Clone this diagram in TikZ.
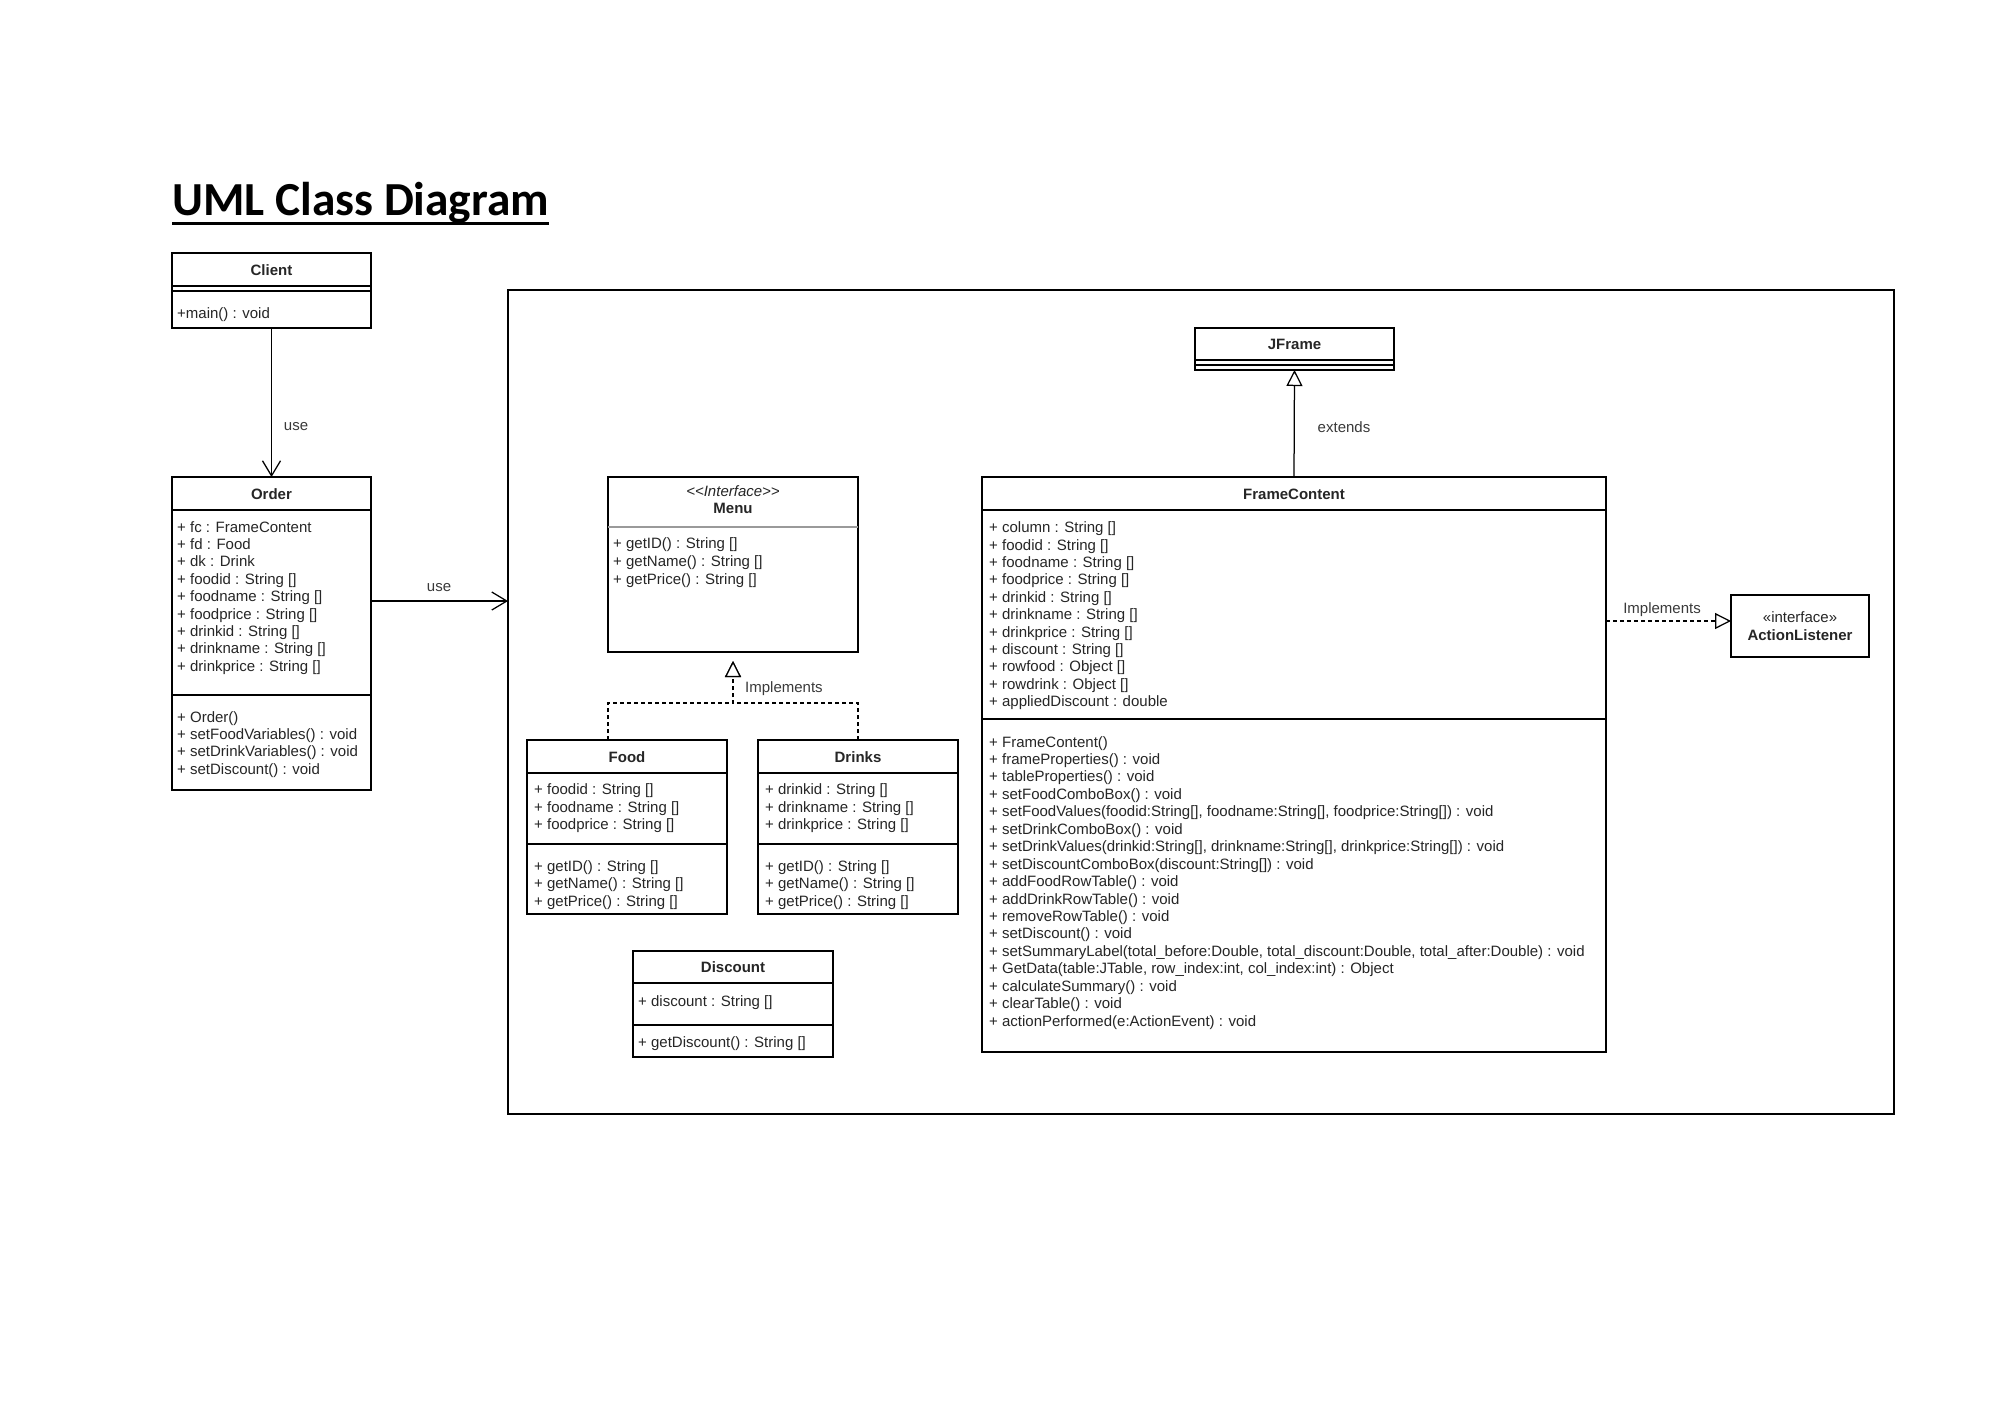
\documentclass[tikz,border=0pt]{standalone}
\usepackage{fontspec}
\setmainfont{Liberation Sans}
\newfontfamily\titlefont{Carlito}
\usetikzlibrary{arrows.meta,fit}

\definecolor{ink}{HTML}{262626}
\definecolor{lbl}{HTML}{3A3A3A}
\definecolor{rulegray}{HTML}{9A9A9A}

\tikzset{
  cls/.style={draw=black, line width=1.25pt, inner sep=0pt, outer sep=0pt, fill=white},
  sep/.style={line width=1.25pt},
  row/.style={anchor=base west, inner sep=0pt, text=ink, font=\fontsize{15}{17.4}\selectfont},
  cname/.style={anchor=base, inner sep=0pt, text=ink, font=\fontsize{15}{17.4}\selectfont\bfseries},
  lab/.style={inner sep=0pt, text=lbl, font=\fontsize{15}{17.4}\selectfont},
  usearrow/.style={line width=1.25pt, -{Straight Barb[length=15pt,width=18pt]}},
  genarrow/.style={line width=1.25pt, -{Triangle[length=16pt,width=16pt,fill=white]}},
  realarrow/.style={genarrow, dash pattern=on 4pt off 3pt},
}

% one text node per compartment row: prefix, x, first baseline, step, rows
\newcommand\members[5]{%
  \foreach \txt [count=\k] in {#5} {
    \node[row] (#1-\k) at (#2, {#3+(\k-1)*#4}) {\txt};
  }%
}

\begin{document}
\begin{tikzpicture}[x=1pt, y=-1pt]
\fill[white] (0,0) rectangle (2000,1414);
\useasboundingbox (0,0) rectangle (2000,1414);

% title
\node[anchor=base west, inner sep=0pt, text=black,
      font=\titlefont\bfseries\fontsize{47.4}{50}\selectfont] (title) at (172,215) {UML Class Diagram};
\draw[line width=3pt] ([yshift=-8pt]title.base west) -- ([yshift=-8pt]title.base east);

% package frame
\node[cls, fill=none, fit={(508,290) (1894,1114)}] (frame) {};

% Client
\node[cls, fit={(172,253) (371,328)}] (client) {};
\draw[sep] (172,286) -- (371,286) (172,291) -- (371,291);
\node[cname] (client-name) at (271.5,275) {Client};
\members{client-m}{177}{318}{17.4}{+main() : void}

% Order
\node[cls, fit={(172,477) (371,790)}] (order) {};
\draw[sep] (172,510) -- (371,510) (172,695) -- (371,695);
\node[cname] (order-name) at (271.5,499.5) {Order};
\members{order-a}{177}{532}{17.4}{+ fc : FrameContent, + fd : Food, + dk : Drink,
  + foodid : String [], + foodname : String [], + foodprice : String [],
  + drinkid : String [], + drinkname : String [], + drinkprice : String []}
\members{order-m}{177}{722}{17.4}{+ Order(), + setFoodVariables() : void,
  + setDrinkVariables() : void, + setDiscount() : void}

% Menu interface
\node[cls, fit={(608,477) (858,652)}] (menu) {};
\draw[line width=1.1pt, rulegray] (608,527) -- (858,527);
\node[cname, font=\fontsize{15}{17.4}\selectfont\itshape] (menu-st) at (733,496) {<\kern0pt<Interface>\kern0pt>};
\node[cname] (menu-name) at (733,513.7) {Menu};
\members{menu-m}{613}{548.6}{18}{+ getID() : String [], + getName() : String [], + getPrice() : String []}

% Food
\node[cls, fit={(527,740) (727,914)}] (food) {};
\draw[sep] (527,773) -- (727,773) (527,844) -- (727,844);
\node[cname] (food-name) at (627,762) {Food};
\members{food-a}{534}{794.6}{17.4}{+ foodid : String [], + foodname : String [], + foodprice : String []}
\members{food-m}{534}{871.3}{17.4}{+ getID() : String [], + getName() : String [], + getPrice() : String []}

% Drinks
\node[cls, fit={(758,740) (958,914)}] (drinks) {};
\draw[sep] (758,773) -- (958,773) (758,844) -- (958,844);
\node[cname] (drinks-name) at (858,762) {Drinks};
\members{drinks-a}{765}{794.6}{17.4}{+ drinkid : String [], + drinkname : String [], + drinkprice : String []}
\members{drinks-m}{765}{871.3}{17.4}{+ getID() : String [], + getName() : String [], + getPrice() : String []}

% Discount
\node[cls, fit={(633,951) (833,1057)}] (discount) {};
\draw[sep] (633,983) -- (833,983) (633,1025) -- (833,1025);
\node[cname] (discount-name) at (733,972.5) {Discount};
\members{discount-a}{638}{1006}{17.4}{+ discount : String []}
\members{discount-m}{638}{1047.5}{17.4}{+ getDiscount() : String []}

% JFrame
\node[cls, fit={(1195,328) (1394,370)}] (jframe) {};
\draw[sep] (1195,360) -- (1394,360) (1195,365) -- (1394,365);
\node[cname] (jframe-name) at (1294.5,349.5) {JFrame};

% FrameContent
\node[cls, fit={(982,477) (1606,1052)}] (fc) {};
\draw[sep] (982,510) -- (1606,510) (982,719) -- (1606,719);
\node[cname] (fc-name) at (1294,499.5) {FrameContent};
\members{fc-a}{989}{532.7}{17.4}{+ column : String [], + foodid : String [], + foodname : String [],
  + foodprice : String [], + drinkid : String [], + drinkname : String [], + drinkprice : String [],
  + discount : String [], + rowfood : Object [], + rowdrink : Object [], + appliedDiscount : double}
\members{fc-m}{989}{747}{17.45}{+ FrameContent(), + frameProperties() : void, + tableProperties() : void,
  + setFoodComboBox() : void,
  {+ setFoodValues(foodid:String[], foodname:String[], foodprice:String[]) : void},
  + setDrinkComboBox() : void,
  {+ setDrinkValues(drinkid:String[], drinkname:String[], drinkprice:String[]) : void},
  + setDiscountComboBox(discount:String[]) : void,
  + addFoodRowTable() : void, + addDrinkRowTable() : void, + removeRowTable() : void,
  + setDiscount() : void,
  {+ setSummaryLabel(total\_before:Double, total\_discount:Double, total\_after:Double) : void},
  {+ GetData(table:JTable, row\_index:int, col\_index:int) : Object},
  + calculateSummary() : void, + clearTable() : void, + actionPerformed(e:ActionEvent) : void}

% ActionListener interface
\node[cls, fit={(1731,595) (1869,657)}] (al) {};
\node[cname, font=\fontsize{15}{17.4}\selectfont] (al-st) at (1800,622.5) {«interface»};
\node[cname] (al-name) at (1800,640.5) {ActionListener};

% connectors
\coordinate (useY) at (0,601);
\coordinate (implY) at (0,621);
\coordinate (menuJoin) at (733,703);
\coordinate (menuTip) at (733,661);

\draw[usearrow] (client.south) -- (order.north);
\draw[usearrow] (order.east |- useY) -- (frame.west |- useY);
\draw[genarrow] (fc.north) -- (jframe.south);
\draw[realarrow] (fc.east |- implY) -- (al.west |- implY);
\draw[realarrow] (food.north -| menu.west) |- (menuJoin) -- (menuTip);
\draw[realarrow] (drinks.north) |- (menuJoin) -- (menuTip);

% connector labels
\node[lab] (use-lbl1) at (296,427) {use};
\node[lab] (use-lbl2) at (439,588) {use};
\node[lab] (ext-lbl) at (1344,427) {extends};
\node[lab] (impl-lbl1) at (1662,610) {Implements};
\node[lab, anchor=west] (impl-lbl2) at (745,689) {Implements};
\end{tikzpicture}
\end{document}
